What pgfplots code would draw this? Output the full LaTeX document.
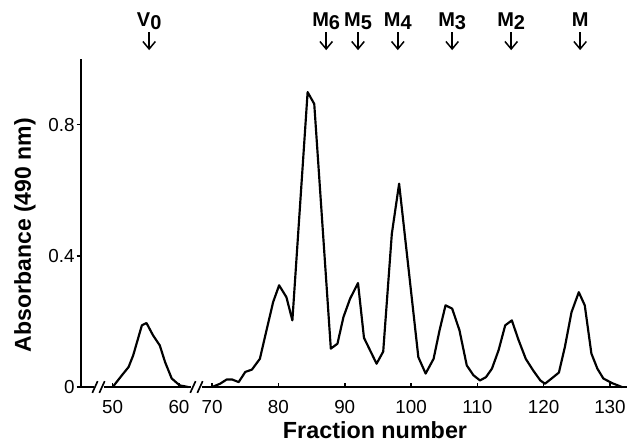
\documentclass[border=0pt]{standalone}
\usepackage{fontspec}
\setmainfont{Liberation Sans}
\usepackage{pgfplots}
\pgfplotsset{compat=1.18}
\usepackage{pgfplotstable}
\usetikzlibrary{arrows.meta}

% fractions 50-62 (before the break)
\pgfplotstableread{
x y
50 0
51.4 0.036
52.4 0.061
53.1 0.097
54.4 0.188
55.1 0.195
56.1 0.157
57.1 0.127
57.9 0.076
58.9 0.026
60.1 0.005
61.4 0
}\voidpeak

% fractions 70-132 (after the break, shifted left by 5 on the axis)
\pgfplotstableread{
x y
70 0
71.2 0.010
72.2 0.023
73.0 0.023
74.0 0.015
75.0 0.046
76.0 0.053
77.2 0.086
78.2 0.173
79.2 0.259
80.1 0.310
81.2 0.274
82.1 0.203
84.4 0.899
85.4 0.863
87.9 0.117
88.9 0.132
89.8 0.213
90.8 0.269
92.0 0.317
92.9 0.150
94.8 0.071
95.8 0.108
97.1 0.467
98.2 0.620
101.1 0.091
102.2 0.041
103.4 0.086
104.3 0.173
105.2 0.249
106.2 0.239
107.3 0.173
108.4 0.066
109.4 0.036
110.4 0.020
111.3 0.030
112.2 0.056
113.2 0.112
114.2 0.188
115.2 0.203
116.2 0.144
117.3 0.086
118.4 0.051
119.5 0.020
120.2 0.010
121.2 0.026
122.3 0.044
123.2 0.122
124.2 0.228
125.3 0.289
126.2 0.249
127.2 0.102
128.1 0.056
129.0 0.026
130.3 0.012
131.8 0
}\mainpeaks

\newcommand\mk[2]{%
  \draw[line width=0.9pt,-{Straight Barb[length=4.5pt,width=7.5pt,line width=0.9pt]}]
    (axis cs:#1,1.082) -- (axis cs:#1,1.027);
  \node[anchor=base,inner sep=0pt,font=\fontsize{12}{14}\selectfont\bfseries]
    at (axis cs:#1,1.100) {#2};}
\newcommand\sub[1]{\raisebox{-1.8pt}{#1}}
\newcommand\brk[1]{\draw[line width=1pt] (axis cs:#1,0) ++(-1.6pt,-3.5pt) -- ++(3.2pt,7pt);}

\begin{document}
\begin{tikzpicture}
\useasboundingbox (-48.6pt,-33pt) rectangle (328.8pt,232.2pt);
\begin{axis}[
  at={(0,0)}, anchor=south west,
  scale only axis, width=327.6pt, height=196.8pt,
  xmin=45.22, xmax=127.57, ymin=0, ymax=1,
  axis lines=left,
  axis line style={-, line width=1.2pt},
  x axis line style={draw=none},
  xtick={50,60,65,75,85,95,105,115,125},
  xticklabels={50,60,70,80,90,100,110,120,130},
  ytick={0,0.4,0.8},
  minor tick num=0,
  tick align=inside, major tick length=2.6pt,
  tick style={black, line width=0.9pt},
  ytick style={xshift=-2.6pt},
  /pgf/number format/assume math mode=true,
  xticklabel style={font=\fontsize{11.3}{13}\selectfont, anchor=base, inner sep=0pt, yshift=-15.6pt},
  yticklabel style={font=\fontsize{11.3}{13}\selectfont, anchor=east, inner sep=0pt, xshift=-3.6pt},
  xlabel={Fraction number},
  ylabel={Absorbance (490 nm)},
  xlabel style={at={(axis description cs:0.5385,-0.1555)}, anchor=base, inner sep=0pt,
    font=\fontsize{14}{16}\selectfont\bfseries},
  ylabel style={at={(axis description cs:-0.1026,0.463)}, anchor=center, inner sep=0pt,
    font=\fontsize{13.8}{16}\selectfont\bfseries},
  clip=false,
]
\addplot[black, line width=1.3pt, line join=round, mark=none] table[x=x, y=y] {\voidpeak};
\addplot[black, line width=1.3pt, line join=round, mark=none] table[x expr=\thisrow{x}-5, y=y] {\mainpeaks};

% broken x axis
\draw[line width=1.2pt, line cap=rect] (axis cs:45.22,0) -- (axis cs:47.0,0);
\draw[line width=1.2pt] (axis cs:48.7,0) -- (axis cs:61.8,0);
\draw[line width=1.2pt] (axis cs:63.5,0) -- (axis cs:127.57,0);
\brk{47.33}
\brk{48.39}
\brk{62.1}
\brk{63.17}

% marker arrows
\mk{55.5}{V\sub{0}}
\mk{82.2}{M\sub{6}}
\mk{87.0}{M\sub{5}}
\mk{93.0}{M\sub{4}}
\mk{101.2}{M\sub{3}}
\mk{110.1}{M\sub{2}}
\mk{120.5}{M}
\end{axis}
\end{tikzpicture}
\end{document}
